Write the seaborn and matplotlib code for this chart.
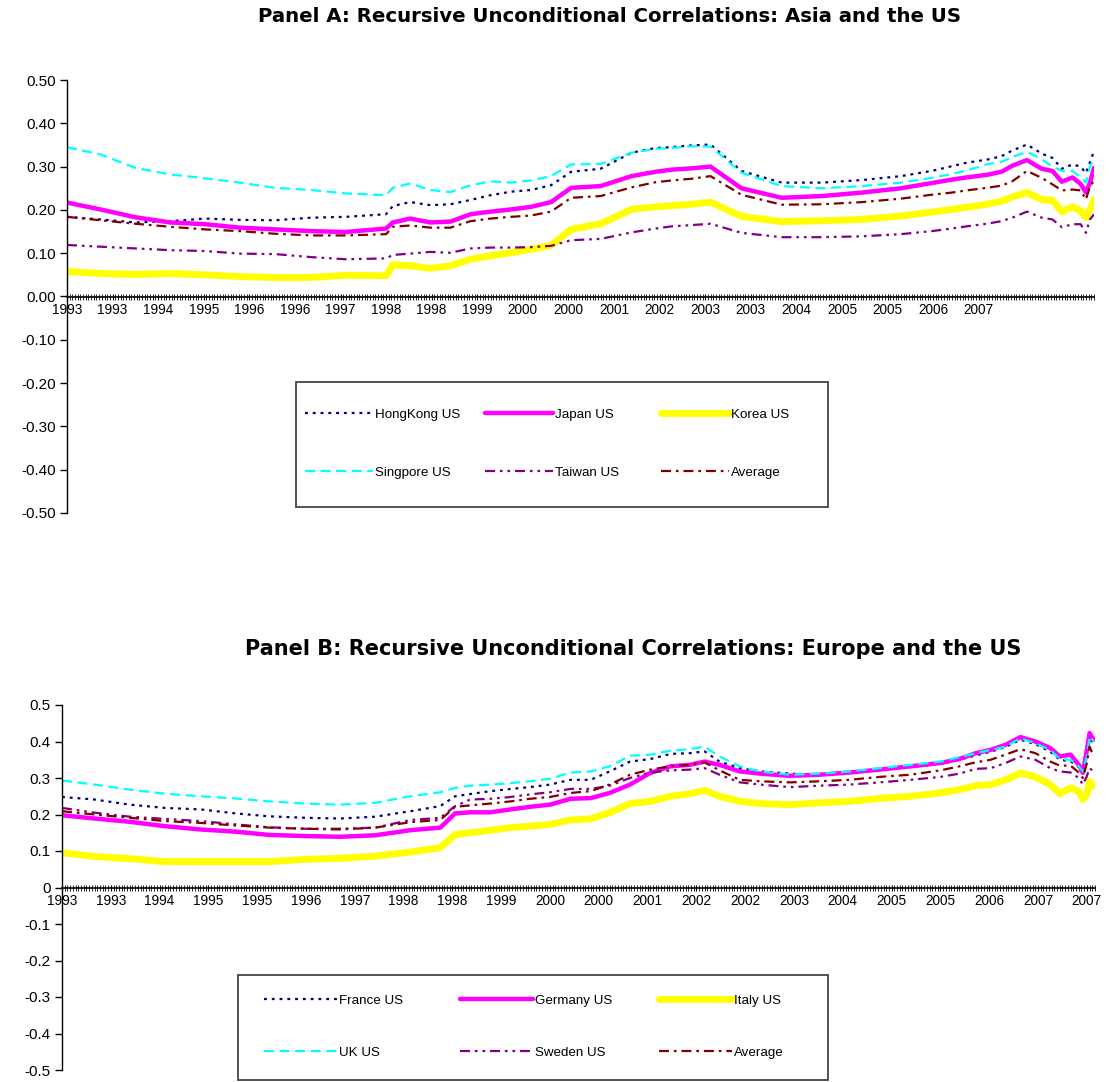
import matplotlib
matplotlib.use("Agg")
import matplotlib.pyplot as plt
from matplotlib.patches import Rectangle
from matplotlib.ticker import MultipleLocator, FuncFormatter
import seaborn as sns

# Panel A: weekly observation index and recursive correlations
weeks_a = [0, 25, 51, 77, 103, 129, 155, 182, 208, 238, 243, 256, 271, 286, 301, 316,
           331, 346, 361, 376, 398, 421, 439, 451, 466, 480, 503, 533, 563, 593, 622,
           645, 660, 671, 686, 697, 705, 716, 727, 735, 742, 750, 756, 760, 763, 766]
hongkong_us = [0.184, 0.178, 0.171, 0.174, 0.180, 0.177, 0.176, 0.182, 0.184, 0.190,
               0.209, 0.218, 0.211, 0.213, 0.223, 0.234, 0.242, 0.246, 0.257,
               0.288, 0.295, 0.332, 0.343, 0.345, 0.349, 0.351,
               0.290, 0.263, 0.263, 0.269, 0.278, 0.290, 0.301, 0.309, 0.316, 0.324, 0.337,
               0.351, 0.330, 0.320, 0.295, 0.305, 0.300, 0.285, 0.310, 0.336]
japan_us = [0.217, 0.201, 0.183, 0.171, 0.167, 0.159, 0.155, 0.151, 0.149, 0.157,
            0.171, 0.180, 0.171, 0.173, 0.190, 0.196, 0.201, 0.207, 0.218,
            0.251, 0.255, 0.278, 0.288, 0.293, 0.296, 0.300,
            0.250, 0.228, 0.232, 0.240, 0.250, 0.262, 0.270, 0.275, 0.281, 0.288, 0.302,
            0.315, 0.295, 0.290, 0.265, 0.275, 0.260, 0.240, 0.263, 0.297]
korea_us = [0.058, 0.053, 0.051, 0.053, 0.050, 0.046, 0.044, 0.044, 0.049, 0.048,
            0.073, 0.071, 0.065, 0.071, 0.086, 0.094, 0.101, 0.109, 0.118,
            0.155, 0.168, 0.201, 0.207, 0.210, 0.213, 0.218,
            0.185, 0.173, 0.175, 0.178, 0.186, 0.195, 0.201, 0.206, 0.213, 0.220, 0.230,
            0.240, 0.224, 0.222, 0.196, 0.207, 0.198, 0.182, 0.201, 0.224]
singpore_us = [0.345, 0.328, 0.297, 0.282, 0.273, 0.263, 0.251, 0.246, 0.238, 0.234,
               0.251, 0.261, 0.246, 0.241, 0.257, 0.266, 0.263, 0.268, 0.278,
               0.305, 0.306, 0.332, 0.341, 0.343, 0.347, 0.346,
               0.286, 0.255, 0.250, 0.255, 0.263, 0.274, 0.283, 0.291, 0.305, 0.311, 0.322,
               0.334, 0.317, 0.300, 0.290, 0.290, 0.275, 0.263, 0.300, 0.320]
taiwan_us = [0.119, 0.115, 0.111, 0.107, 0.105, 0.099, 0.098, 0.091, 0.086, 0.088,
             0.096, 0.099, 0.103, 0.101, 0.111, 0.113, 0.113, 0.114, 0.117,
             0.130, 0.133, 0.148, 0.157, 0.162, 0.165, 0.168,
             0.147, 0.137, 0.137, 0.139, 0.144, 0.151, 0.157, 0.162, 0.168, 0.174, 0.182,
             0.196, 0.182, 0.178, 0.160, 0.167, 0.167, 0.147, 0.178, 0.190]
average_a = [0.184, 0.176, 0.168, 0.161, 0.155, 0.151, 0.145, 0.141, 0.141, 0.144,
             0.161, 0.164, 0.159, 0.159, 0.174, 0.180, 0.184, 0.187, 0.196,
             0.228, 0.232, 0.252, 0.264, 0.268, 0.272, 0.278,
             0.235, 0.212, 0.213, 0.218, 0.226, 0.235, 0.240, 0.245, 0.251, 0.256, 0.266,
             0.290, 0.274, 0.259, 0.245, 0.247, 0.245, 0.224, 0.255, 0.267]
names_a = ["HongKong US", "Japan US", "Korea US", "Singpore US", "Taiwan US", "Average"]
ticks_a = ["1993", "1993", "1994", "1995", "1996", "1996", "1997", "1998", "1998", "1999",
           "2000", "2000", "2001", "2002", "2003", "2003", "2004", "2005", "2005", "2006", "2007"]

# Panel B
weeks_b = [0, 24, 50, 76, 102, 128, 153, 179, 205, 231, 257, 279, 290, 301, 316, 331,
           345, 360, 375, 390, 404, 419, 434, 449, 463, 474, 485, 500, 515, 537, 559,
           581, 603, 626, 648, 662, 674, 685, 696, 707, 718, 729, 736, 744, 750, 753,
           756, 758, 761]
france_us = [0.248, 0.241, 0.227, 0.218, 0.214, 0.203, 0.195, 0.191, 0.189, 0.194,
             0.209, 0.223, 0.250, 0.256, 0.264, 0.270, 0.275, 0.282, 0.295,
             0.295, 0.318, 0.345, 0.352, 0.366, 0.368, 0.373, 0.345, 0.327, 0.318, 0.312,
             0.308, 0.314, 0.322, 0.330, 0.339, 0.350, 0.362, 0.372, 0.385, 0.405,
             0.393, 0.372, 0.350, 0.346, 0.330, 0.315, 0.360, 0.410, 0.395]
germany_us = [0.198, 0.189, 0.180, 0.168, 0.159, 0.153, 0.144, 0.141, 0.139, 0.143,
              0.157, 0.164, 0.203, 0.206, 0.206, 0.214, 0.221, 0.227, 0.243,
              0.245, 0.259, 0.282, 0.314, 0.332, 0.336, 0.345, 0.336, 0.318, 0.312,
              0.306, 0.309, 0.315, 0.323, 0.332, 0.341, 0.352, 0.368, 0.377, 0.391,
              0.412, 0.400, 0.382, 0.359, 0.364, 0.336, 0.314, 0.377, 0.423, 0.405]
italy_us = [0.095, 0.085, 0.079, 0.071, 0.071, 0.071, 0.071, 0.077, 0.080, 0.086,
            0.097, 0.109, 0.145, 0.150, 0.157, 0.164, 0.168, 0.173, 0.185,
            0.188, 0.205, 0.230, 0.236, 0.250, 0.257, 0.266, 0.250, 0.236, 0.230,
            0.227, 0.232, 0.236, 0.244, 0.250, 0.259, 0.268, 0.279, 0.282, 0.295,
            0.314, 0.303, 0.282, 0.257, 0.273, 0.264, 0.241, 0.255, 0.291, 0.277]
uk_us = [0.293, 0.282, 0.268, 0.257, 0.250, 0.244, 0.236, 0.230, 0.227, 0.232,
         0.250, 0.261, 0.273, 0.279, 0.282, 0.286, 0.291, 0.298, 0.315,
         0.318, 0.332, 0.361, 0.364, 0.375, 0.379, 0.386, 0.359, 0.332, 0.318,
         0.309, 0.312, 0.318, 0.327, 0.336, 0.345, 0.357, 0.368, 0.377, 0.386,
         0.409, 0.395, 0.377, 0.352, 0.350, 0.332, 0.318, 0.359, 0.414, 0.400]
sweden_us = [0.218, 0.205, 0.194, 0.188, 0.182, 0.173, 0.165, 0.161, 0.161, 0.164,
             0.185, 0.191, 0.223, 0.241, 0.243, 0.248, 0.255, 0.261, 0.270,
             0.270, 0.279, 0.300, 0.315, 0.321, 0.323, 0.327, 0.309, 0.288, 0.282,
             0.275, 0.279, 0.282, 0.288, 0.295, 0.303, 0.312, 0.325, 0.327, 0.341,
             0.359, 0.350, 0.327, 0.318, 0.315, 0.300, 0.282, 0.305, 0.327, 0.318]
average_b = [0.209, 0.200, 0.191, 0.182, 0.177, 0.170, 0.164, 0.161, 0.159, 0.164,
             0.179, 0.185, 0.221, 0.225, 0.230, 0.236, 0.243, 0.248, 0.259,
             0.264, 0.282, 0.309, 0.323, 0.332, 0.336, 0.343, 0.321, 0.295, 0.291,
             0.288, 0.291, 0.295, 0.303, 0.309, 0.321, 0.332, 0.343, 0.350, 0.364,
             0.379, 0.368, 0.345, 0.334, 0.334, 0.315, 0.300, 0.341, 0.386, 0.359]
names_b = ["France US", "Germany US", "Italy US", "UK US", "Sweden US", "Average"]
ticks_b = ["1993", "1993", "1994", "1995", "1995", "1996", "1997", "1998", "1998", "1999",
           "2000", "2000", "2001", "2002", "2002", "2003", "2004", "2005", "2005", "2006",
           "2007", "2007"]

# Excel-like series formats (same order in both panels)
styles = [
    dict(color="#000080", lw=1.6, ls=(0, (1.3, 2.2))),
    dict(color="#FF00FF", lw=3.2, ls="-"),
    dict(color="#FFFF00", lw=5.0, ls="-"),
    dict(color="#00FFFF", lw=1.6, ls=(0, (4.5, 2.5))),
    dict(color="#800080", lw=1.6, ls=(0, (4.5, 2.2, 1.2, 2.2, 1.2, 2.2))),
    dict(color="#800000", lw=1.6, ls=(0, (4.5, 2.2, 1.2, 2.2))),
]

sns.set_theme(style="white")
plt.rcParams["font.family"] = ["Liberation Sans", "DejaVu Sans"]
plt.rcParams["axes.unicode_minus"] = False
for k in ["text.color", "axes.labelcolor", "xtick.color", "ytick.color"]:
    plt.rcParams[k] = "black"

W, H = 1109, 1082
fig = plt.figure(figsize=(W / 100, H / 100), dpi=100)
ax_a = fig.add_axes([67 / W, 1 - 513 / H, 1027 / W, 433 / H])
ax_b = fig.add_axes([62 / W, 1 - 1070 / H, 1033 / W, 365 / H])


def draw_panel(ax, weeks, series, names, ticks, step, end, fmt):
    handles = []
    for vals, name, st in zip(series, names, styles):
        sns.lineplot(x=weeks, y=vals, ax=ax, color=st["color"], lw=st["lw"], legend=False)
        line = ax.lines[-1]
        line.set_linestyle(st["ls"])
        handles.append(line)
    ax.set_xlim(0, end)
    ax.set_ylim(-0.5, 0.5)
    ax.yaxis.set_major_locator(MultipleLocator(0.1))
    ax.yaxis.set_major_formatter(FuncFormatter(fmt))
    ax.set_xticks(range(0, step * len(ticks), step))
    ax.set_xticklabels(ticks)
    ax.xaxis.set_minor_locator(MultipleLocator(2))
    for s in ["top", "right"]:
        ax.spines[s].set_visible(False)
    ax.spines["bottom"].set_position(("data", 0))
    ax.spines["left"].set_color("black")
    ax.spines["bottom"].set_color("black")
    ax.spines["left"].set_linewidth(1.0)
    ax.spines["bottom"].set_linewidth(1.2)
    ax.tick_params(axis="y", left=True, direction="out", length=5, width=1,
                   labelsize=11, colors="black", pad=3)
    ax.tick_params(axis="x", which="major", bottom=True, direction="inout", length=5,
                   width=0.8, labelsize=9.8, pad=2, colors="black")
    ax.tick_params(axis="x", which="minor", bottom=True, direction="inout", length=4,
                   width=0.6, color="black")
    ax.set_xlabel("")
    ax.set_ylabel("")
    return handles


def legend_box(handles, names, box, col_x, rows_y, hlen):
    x0, y0, x1, y1 = box
    fig.add_artist(Rectangle((x0 / W, 1 - y1 / H), (x1 - x0) / W, (y1 - y0) / H,
                             transform=fig.transFigure, fill=False,
                             edgecolor="#444444", lw=1.3))
    gap = rows_y[1] - rows_y[0]
    fs = 9.6
    spacing = (gap - fs * 1.39) / (fs * 1.39)
    for c, x in enumerate(col_x):
        fig.legend([handles[c], handles[c + 3]], [names[c], names[c + 3]],
                   loc="center left",
                   bbox_to_anchor=(x / W, 1 - (rows_y[0] + rows_y[1]) / 2 / H),
                   frameon=False, fontsize=fs, handlelength=hlen, handletextpad=0.15,
                   labelspacing=spacing, borderpad=0, borderaxespad=0,
                   labelcolor="black")


h_a = draw_panel(ax_a, weeks_a,
                 [hongkong_us, japan_us, korea_us, singpore_us, taiwan_us, average_a],
                 names_a, ticks_a, 34, 766, lambda v, _: f"{v:.2f}")
h_b = draw_panel(ax_b, weeks_b,
                 [france_us, germany_us, italy_us, uk_us, sweden_us, average_b],
                 names_b, ticks_b, 36, 762,
                 lambda v, _: "0" if abs(v) < 1e-9 else f"{v:.1f}")

legend_box(h_a, names_a, (296, 382, 828, 507), [305, 485, 661], [414, 473], 5.1)
legend_box(h_b, names_b, (238, 975, 828, 1080), [264, 460, 659], [1000, 1053], 5.5)

fig.text(610 / W, 1 - 16 / H,
         "Panel A: Recursive Unconditional Correlations: Asia and the US",
         ha="center", va="center", fontsize=14.2, fontweight="bold",
         family=["DejaVu Sans"], color="black")
fig.text(633 / W, 1 - 649 / H,
         "Panel B: Recursive Unconditional Correlations: Europe and the US",
         ha="center", va="center", fontsize=15, fontweight="bold",
         family=["DejaVu Sans"], color="black")

fig.savefig("out.png", dpi=100)
